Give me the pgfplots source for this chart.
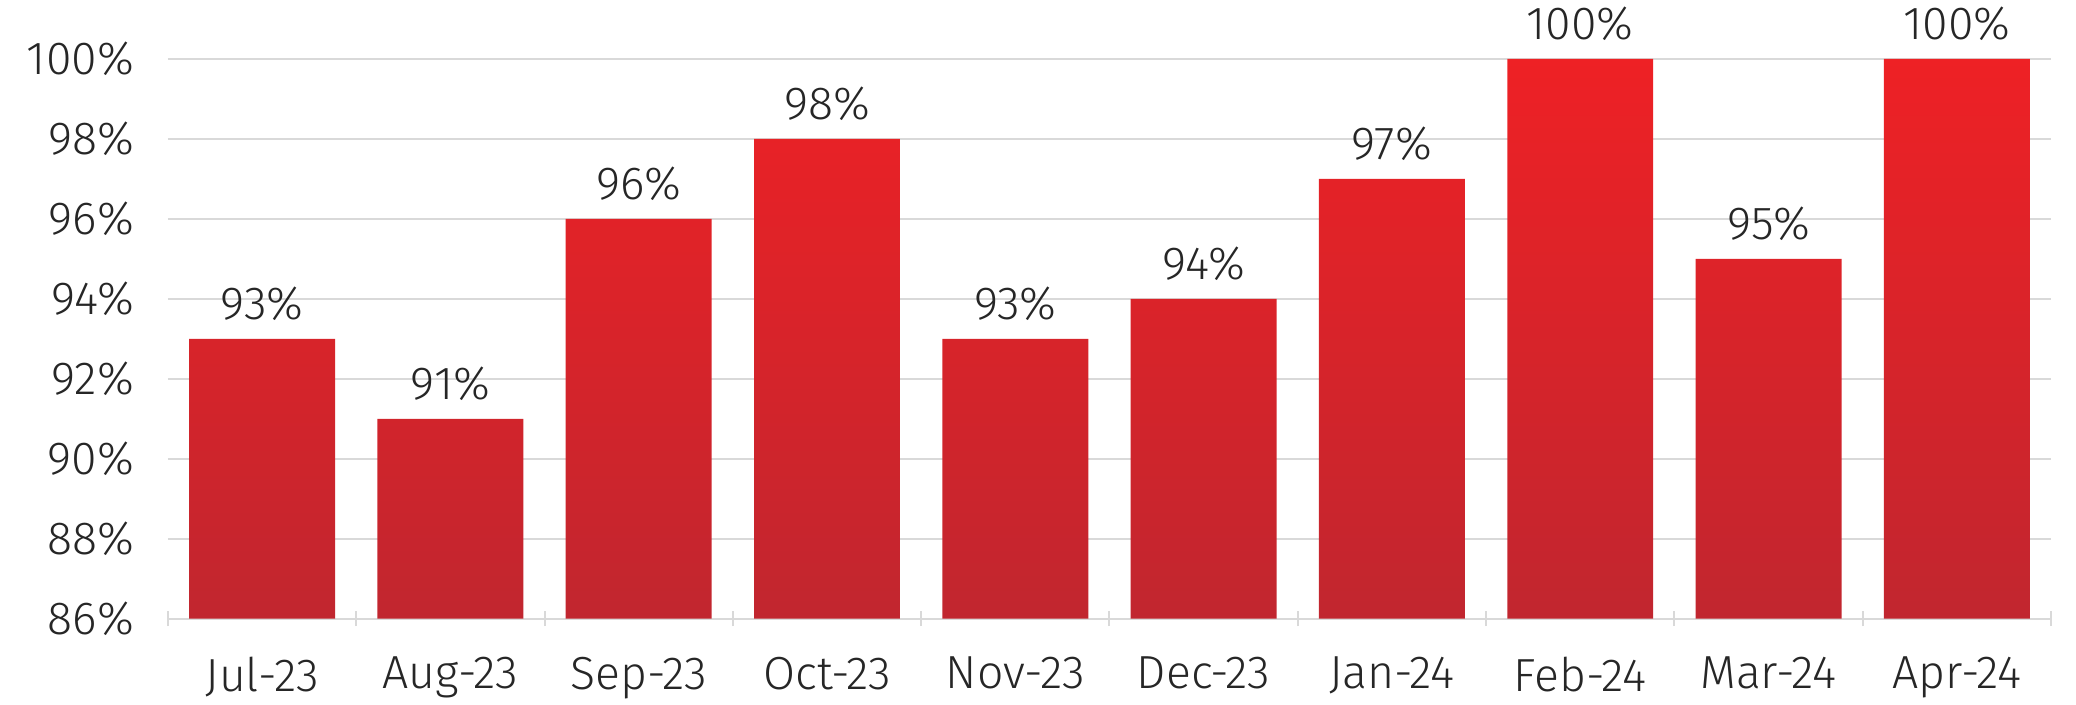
\documentclass[border=0pt]{standalone}
\usepackage{fontspec}
\setmainfont{Fira Sans}[UprightFont=* Light]
\usepackage{pgfplots}
\pgfplotsset{compat=1.18}
\usetikzlibrary{calc}
\definecolor{txt}{HTML}{262626}
\definecolor{gridc}{HTML}{D9D9D9}
\definecolor{bartop}{HTML}{EE2125}
\definecolor{barbot}{HTML}{C1262F}
\begin{document}
\begin{tikzpicture}
\begin{axis}[
  scale only axis,
  width=471pt, height=140pt,
  xmin=-0.5, xmax=9.5,
  ymin=86, ymax=100,
  ytick={86,88,...,100},
  yticklabels={86\%,88\%,90\%,92\%,94\%,96\%,98\%,100\%},
  xtick={0,...,9},
  xticklabels={Jul-23,Aug-23,Sep-23,Oct-23,Nov-23,Dec-23,Jan-24,Feb-24,Mar-24,Apr-24},
  minor xtick={-0.5,0.5,...,9.5},
  major tick length=0pt,
  minor tick length=3.75pt,
  xtick align=outside,
  minor tick style={draw=gridc, line width=0.5pt},
  ymajorgrids,
  grid style={draw=gridc, line width=0.4pt},
  axis x line=bottom,
  axis y line=left,
  x axis line style={draw=gridc, line width=0.5pt, -},
  y axis line style={draw=none},
  ytick style={draw=none},
  /pgf/number format/assume math mode=true,
  tick label style={font=\fontsize{11.6}{13}\selectfont, text=txt},
  yticklabel style={xshift=-5pt},
  xticklabel style={yshift=-6pt},
  clip=false,
]
\addplot[ybar, bar width=36.5pt, draw=none, top color=bartop, bottom color=barbot,
  nodes near coords={\pgfmathprintnumber{\pgfplotspointmeta}\%},
  nodes near coords style={font=\fontsize{11.6}{13}\selectfont, text=txt, yshift=1pt},
] coordinates {
(0,93) (1,91) (2,96) (3,98) (4,93) (5,94) (6,97) (7,100) (8,95) (9,100)
};
\end{axis}
\pgfresetboundingbox
\path ($(current axis.south west)+(-42pt,-21.5pt)$) rectangle ($(current axis.north east)+(6.25pt,14.75pt)$);
\end{tikzpicture}
\end{document}
